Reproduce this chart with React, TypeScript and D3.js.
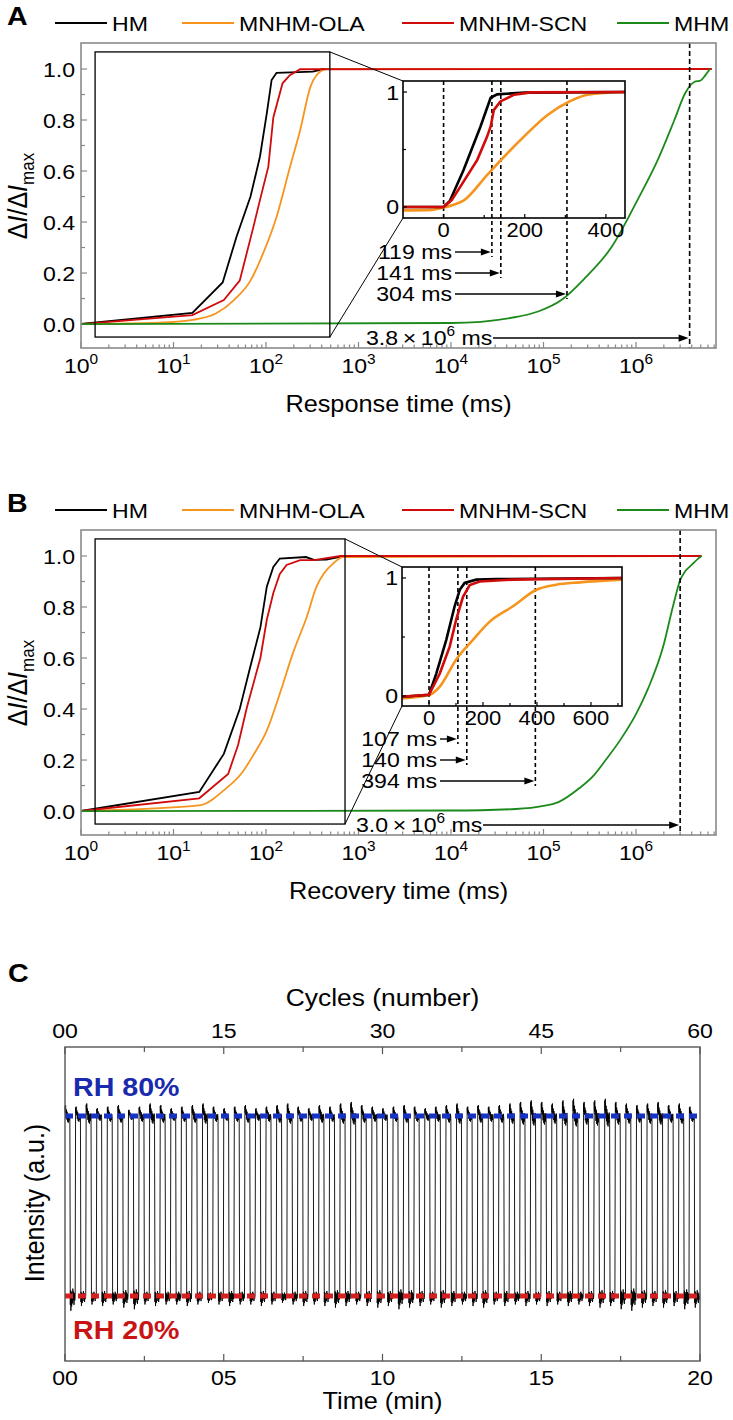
import React from 'react';
import * as d3 from 'd3';

type Pt = [number, number];

const FONT = '"Liberation Sans", Arial, Helvetica, sans-serif';
const SX = 1.1;

const SERIES_NAMES = ['HM', 'MNHM-OLA', 'MNHM-SCN', 'MHM'];
const SERIES_COLORS = ['#000000', '#f7941d', '#d10a0a', '#1b8a1b'];

// ---------- Panel A (response) ----------
const A_HM_MAIN: Pt[] = [[1, 0], [16, 0.044], [34, 0.163], [48, 0.342], [68, 0.5], [86, 0.656], [102, 0.826], [115, 0.957], [130, 0.985], [320, 0.99], [420, 1.0], [6.6e6, 1.0]];
const A_OLA_MAIN: Pt[] = [[1, 0], [7, 0.005], [16, 0.016], [29, 0.042], [45, 0.094], [68, 0.17], [93, 0.277], [130, 0.42], [182, 0.617], [234, 0.76], [302, 0.93], [367, 0.983], [453, 1.0], [6.6e6, 1.0]];
const A_SCN_MAIN: Pt[] = [[1, 0], [16, 0.035], [35, 0.094], [52, 0.17], [73, 0.38], [86, 0.486], [106, 0.617], [120, 0.81], [151, 0.944], [181, 0.976], [234, 0.999], [6.6e6, 1.0]];
const A_MHM_MAIN: Pt[] = [[1, 0], [1e4, 0.004], [4.6e4, 0.025], [8.9e4, 0.05], [1.56e5, 0.094], [2.8e5, 0.18], [5.4e5, 0.3], [1.05e6, 0.49], [1.7e6, 0.64], [2.6e6, 0.8], [3.4e6, 0.905], [4.3e6, 0.95], [5.0e6, 0.955], [5.6e6, 0.975], [6.3e6, 1.0]];

const A_HM_INSET: Pt[] = [[-100, 0.0], [0, 0.0], [15, 0.05], [49, 0.32], [91, 0.7], [116, 0.95], [132, 0.98], [200, 0.995], [447, 1.0]];
const A_OLA_INSET: Pt[] = [[-100, -0.03], [-30, -0.025], [0, -0.005], [25, 0.02], [50, 0.058], [107, 0.277], [149, 0.437], [198, 0.612], [256, 0.8], [310, 0.918], [355, 0.977], [447, 1.0]];
const A_SCN_INSET: Pt[] = [[-100, 0.0], [0, 0.0], [20, 0.06], [41, 0.175], [83, 0.41], [107, 0.61], [116, 0.7], [124, 0.845], [140, 0.918], [174, 0.977], [215, 0.997], [447, 1.0]];

const A_MARKS = [119, 141, 304];
const A_MHM_TIME = 3.8e6;

// ---------- Panel B (recovery) ----------
const B_HM_MAIN: Pt[] = [[1, 0], [19, 0.075], [35, 0.224], [52, 0.4], [67, 0.56], [87, 0.72], [102, 0.88], [120, 0.957], [141, 0.99], [270, 0.996], [330, 0.985], [450, 0.986], [690, 1.0], [5.1e6, 1.0]];
const B_OLA_MAIN: Pt[] = [[1, 0], [19, 0.022], [36, 0.085], [55, 0.15], [73, 0.22], [102, 0.315], [141, 0.46], [196, 0.62], [275, 0.76], [352, 0.88], [420, 0.93], [530, 0.97], [680, 0.996], [5.1e6, 1.0]];
const B_SCN_MAIN: Pt[] = [[1, 0], [19, 0.05], [39, 0.145], [50, 0.26], [62, 0.405], [87, 0.6], [102, 0.75], [120, 0.855], [141, 0.93], [167, 0.965], [234, 0.984], [330, 0.984], [640, 1.0], [5.1e6, 1.0]];
const B_MHM_MAIN: Pt[] = [[1, 0], [1e4, 0.002], [5e4, 0.008], [1e5, 0.02], [1.45e5, 0.035], [2.45e5, 0.09], [3.5e5, 0.14], [4.7e5, 0.2], [6.8e5, 0.28], [1e6, 0.38], [1.35e6, 0.48], [1.95e6, 0.64], [2.5e6, 0.8], [3.0e6, 0.905], [3.4e6, 0.94], [4.0e6, 0.965], [4.7e6, 0.99], [5.1e6, 1.0]];

const B_HM_INSET: Pt[] = [[-100, -0.006], [0, 0.01], [27, 0.19], [64, 0.476], [95, 0.76], [114, 0.9], [132, 0.958], [175, 0.986], [249, 0.99], [715, 1.0]];
const B_OLA_INSET: Pt[] = [[-100, -0.02], [0, 0.008], [40, 0.08], [101, 0.31], [163, 0.476], [225, 0.63], [311, 0.76], [398, 0.9], [472, 0.943], [558, 0.963], [715, 0.986]];
const B_SCN_INSET: Pt[] = [[-100, -0.006], [0, 0.01], [40, 0.19], [77, 0.42], [101, 0.65], [126, 0.84], [151, 0.94], [188, 0.97], [311, 0.986], [715, 1.0]];

const B_MARKS = [107, 140, 394];
const B_MHM_TIME = 3.0e6;

const Y_TICKS = [0, 0.2, 0.4, 0.6, 0.8, 1.0];
const Y_MINOR = [0.1, 0.3, 0.5, 0.7, 0.9];

// ---------- Panel C (cycling) ----------
const C_MINUTES = 20;
const C_CYCLES = 60;
const C_TIME_TICKS = [0, 5, 10, 15, 20];
const C_CYCLE_TICKS = [0, 15, 30, 45, 60];
const C_HIGH_LEVEL = 0.78;
const C_LOW_LEVEL = 0.207;
const C_HIGH_PEAK = [
  0.815, 0.81, 0.82, 0.805, 0.81, 0.815, 0.8, 0.81, 0.82, 0.815,
  0.805, 0.81, 0.815, 0.82, 0.81, 0.805, 0.81, 0.815, 0.805, 0.81,
  0.815, 0.82, 0.81, 0.805, 0.815, 0.81, 0.82, 0.825, 0.815, 0.81,
  0.805, 0.81, 0.815, 0.81, 0.805, 0.81, 0.815, 0.82, 0.81, 0.815,
  0.81, 0.815, 0.82, 0.825, 0.83, 0.825, 0.82, 0.83, 0.835, 0.825,
  0.83, 0.835, 0.825, 0.82, 0.815, 0.82, 0.825, 0.815, 0.82, 0.81,
];
const C_LOW_DIP = [
  0.16, 0.175, 0.18, 0.175, 0.18, 0.17, 0.165, 0.18, 0.175, 0.18,
  0.18, 0.175, 0.18, 0.185, 0.18, 0.175, 0.18, 0.18, 0.175, 0.18,
  0.185, 0.18, 0.175, 0.18, 0.175, 0.17, 0.175, 0.18, 0.175, 0.17,
  0.175, 0.165, 0.17, 0.175, 0.18, 0.17, 0.175, 0.18, 0.175, 0.17,
  0.18, 0.175, 0.18, 0.175, 0.18, 0.175, 0.18, 0.175, 0.18, 0.175,
  0.17, 0.175, 0.165, 0.16, 0.17, 0.175, 0.17, 0.175, 0.165, 0.17,
];
// plateau noise shape: [fraction of half-cycle, relative excursion]
const C_HIGH_SHAPE: Pt[] = [[0, 0.9], [0.06, 0.3], [0.12, 1.0], [0.2, 0.1], [0.28, 0.6], [0.36, -0.3], [0.44, 0.4], [0.52, -0.5], [0.6, 0.2], [0.68, -0.6], [0.76, 0.1], [0.84, -0.4], [0.92, 0.2], [1, -0.2]];
const C_LOW_SHAPE: Pt[] = [[0, 0.6], [0.06, -0.4], [0.12, 1.0], [0.2, -0.3], [0.28, 0.7], [0.36, -0.2], [0.44, 0.5], [0.52, -0.5], [0.6, 0.3], [0.68, -0.3], [0.76, 0.6], [0.84, -0.2], [0.92, 0.3], [1, 0]];

// ---------- helpers ----------
function T(props: any) {
  const { x, y, size, anchor = 'start', weight, fill = '#000', rot = false, children, style } = props;
  const tr = rot ? `translate(${x},${y}) rotate(-90) scale(1,${SX})` : `translate(${x},${y}) scale(${SX},1)`;
  return (
    <text transform={tr} fontSize={size} textAnchor={anchor} fontWeight={weight} fill={fill} fontFamily={FONT} style={style}>
      {children}
    </text>
  );
}

function Arrow({ x1, x2, y }: { x1: number; x2: number; y: number }) {
  return (
    <g>
      <line x1={x1} y1={y} x2={x2 - 7} y2={y} stroke="#000" strokeWidth={1.4} />
      <polygon points={`${x2},${y} ${x2 - 10},${y - 3.6} ${x2 - 10},${y + 3.6}`} fill="#000" />
    </g>
  );
}

const FR_L = 81, FR_R = 716, FR_H = 305;
const DECADE = 92.5;
const X_MAX = Math.pow(10, (FR_R - FR_L) / DECADE);
const Y_DOM: [number, number] = [-0.094, 1.102];

interface PanelCfg {
  letter: string;
  xTitle: string;
  top: number;
  main: Pt[][];
  inset: Pt[][];
  marks: number[];
  mhm: number;
  boxX1: number;
  ib: { l: number; r: number; t: number; b: number };
  ixDom: [number, number];
  iyDom: [number, number];
  ixTicks: number[];
  ixMinor: number[];
  labelOffsets: number[];
  labelRight: number;
  mhmLabelX: number;
}

const LEGEND_X = [55, 182, 402, 617];

function LogPanel({ cfg }: { cfg: PanelCfg }) {
  const t = cfg.top, b = cfg.top + FR_H;
  const x = d3.scaleLog().domain([1, X_MAX]).range([FR_L, FR_R]);
  const y = d3.scaleLinear().domain(Y_DOM).range([b, t]);
  const curves = [d3.curveLinear, d3.curveMonotoneX, d3.curveLinear, d3.curveMonotoneX];
  const mkLine = (c: any) => d3.line<Pt>().x((d) => x(d[0])).y((d) => y(d[1])).curve(c);

  const logTicks: { v: number; major: boolean; e: number }[] = [];
  for (let e = 0; e <= 6; e++) {
    for (let k = 1; k <= 9; k++) {
      const v = k * Math.pow(10, e);
      if (v <= X_MAX) logTicks.push({ v, major: k === 1, e });
    }
  }

  const ib = cfg.ib;
  const xi = d3.scaleLinear().domain(cfg.ixDom).range([ib.l, ib.r]);
  const yi = d3.scaleLinear().domain(cfg.iyDom).range([ib.b, ib.t]);
  const mkILine = (c: any) => d3.line<Pt>().x((d) => xi(d[0])).y((d) => yi(d[1])).curve(c);
  const insetOrder = [1, 0, 2];
  const insetCurves = [d3.curveLinear, d3.curveMonotoneX, d3.curveLinear];

  const bx0 = x(1.42), bx1 = x(cfg.boxX1), by0 = y(1.067), by1 = y(-0.051);
  const mhmX = x(cfg.mhm);
  const mhmMant = (cfg.mhm / 1e6).toFixed(1);
  const fmt = d3.format('.1f');
  const clipId = `clip-${cfg.letter}`;

  return (
    <g>
      <defs>
        <clipPath id={clipId}>
          <rect x={FR_L} y={t} width={FR_R - FR_L} height={FR_H} />
        </clipPath>
      </defs>
      {/* letter */}
      <T x={7} y={t - 18} size={26} weight="bold">{cfg.letter}</T>
      {/* legend */}
      {SERIES_NAMES.map((n, i) => (
        <g key={n}>
          <line x1={LEGEND_X[i]} x2={LEGEND_X[i] + 52} y1={t - 20} y2={t - 20} stroke={SERIES_COLORS[i]} strokeWidth={2} />
          <T x={LEGEND_X[i] + 57} y={t - 20 + 7.5} size={21}>{n}</T>
        </g>
      ))}
      {/* ticks */}
      {logTicks.map((tk) => (
        <line key={tk.v} x1={x(tk.v)} x2={x(tk.v)} y1={b} y2={b - (tk.major ? 6 : 3.5)} stroke="#888" strokeWidth={1.2} />
      ))}
      {logTicks.filter((tk) => tk.major).map((tk) => (
        <T key={'l' + tk.v} x={x(tk.v)} y={b + 24.5} size={21} anchor="middle">
          10<tspan dy={-9} fontSize={14}>{tk.e}</tspan>
        </T>
      ))}
      {Y_TICKS.map((v) => (
        <g key={'y' + v}>
          <line x1={FR_L} x2={FR_L + 6} y1={y(v)} y2={y(v)} stroke="#888" strokeWidth={1.2} />
          <T x={75} y={y(v) + 7.5} size={21} anchor="end">{fmt(v)}</T>
        </g>
      ))}
      {Y_MINOR.map((v) => (
        <line key={'ym' + v} x1={FR_L} x2={FR_L + 4} y1={y(v)} y2={y(v)} stroke="#888" strokeWidth={1.2} />
      ))}
      {/* axis titles */}
      <T x={(FR_L + FR_R) / 2} y={b + 64} size={23} anchor="middle">{cfg.xTitle}</T>
      <T x={27} y={t + 153} size={25} anchor="middle" rot>
        Δ<tspan fontStyle="italic">I</tspan>/Δ<tspan fontStyle="italic">I</tspan>
        <tspan dy={6} fontSize={17}>max</tspan>
      </T>
      {/* curves */}
      <g clipPath={`url(#${clipId})`}>
        {cfg.main.map((s, i) => (
          <path key={i} d={mkLine(curves[i])(s) || ''} fill="none" stroke={SERIES_COLORS[i]} strokeWidth={1.8} />
        ))}
      </g>
      {/* big dashed line at MHM time */}
      <line x1={mhmX} x2={mhmX} y1={t} y2={b} stroke="#000" strokeWidth={1.6} strokeDasharray="5,3" />
      {/* frame */}
      <rect x={FR_L} y={t} width={FR_R - FR_L} height={FR_H} fill="none" stroke="#8a8a8a" strokeWidth={1.6} />
      {/* zoom box */}
      <rect x={bx0} y={by0} width={bx1 - bx0} height={by1 - by0} fill="none" stroke="#000" strokeWidth={1.3} />
      <line x1={bx1} y1={by0} x2={ib.l} y2={ib.t} stroke="#000" strokeWidth={1} />
      <line x1={bx1} y1={by1} x2={ib.l} y2={ib.b} stroke="#000" strokeWidth={1} />
      {/* inset */}
      <rect x={ib.l} y={ib.t} width={ib.r - ib.l} height={ib.b - ib.t} fill="#fff" stroke="none" />
      <line x1={xi(0)} x2={xi(0)} y1={ib.t} y2={ib.b} stroke="#000" strokeWidth={1.6} strokeDasharray="4,3" />
      {cfg.marks.map((m, i) => (
        <line key={'mk' + m} x1={xi(m)} x2={xi(m)} y1={ib.t} y2={ib.b + cfg.labelOffsets[i] + 6} stroke="#000" strokeWidth={1.6} strokeDasharray="4,3" />
      ))}
      {insetOrder.map((k) => (
        <path key={'in' + k} d={mkILine(insetCurves[k])(cfg.inset[k]) || ''} fill="none" stroke={SERIES_COLORS[k]} strokeWidth={2.6} />
      ))}
      <rect x={ib.l} y={ib.t} width={ib.r - ib.l} height={ib.b - ib.t} fill="none" stroke="#000" strokeWidth={1.6} />
      {cfg.ixTicks.map((v) => (
        <g key={'ix' + v}>
          <line x1={xi(v)} x2={xi(v)} y1={ib.b} y2={ib.b - 4} stroke="#000" strokeWidth={1.2} />
          <T x={xi(v)} y={ib.b + 18.5} size={20} anchor="middle">{v}</T>
        </g>
      ))}
      {cfg.ixMinor.map((v) => (
        <line key={'ixm' + v} x1={xi(v)} x2={xi(v)} y1={ib.b} y2={ib.b - 3} stroke="#000" strokeWidth={1.2} />
      ))}
      {[0, 1].map((v) => (
        <g key={'iy' + v}>
          <line x1={ib.l} x2={ib.l + 4} y1={yi(v)} y2={yi(v)} stroke="#000" strokeWidth={1.2} />
          <T x={ib.l - 4} y={yi(v) + 7.5} size={21} anchor="end">{v}</T>
        </g>
      ))}
      <line x1={ib.l} x2={ib.l + 3} y1={yi(0.5)} y2={yi(0.5)} stroke="#000" strokeWidth={1.2} />
      {/* mark labels + arrows */}
      {cfg.marks.map((m, i) => {
        const cy = ib.b + cfg.labelOffsets[i];
        return (
          <g key={'lab' + m}>
            <T x={cfg.labelRight} y={cy + 7.5} size={21} anchor="end">{`${m} ms`}</T>
            <Arrow x1={cfg.labelRight + 3} x2={xi(m) - 1} y={cy + 1} />
          </g>
        );
      })}
      {/* MHM label */}
      <T x={cfg.mhmLabelX} y={by1 + 7.5} size={21}>
        {mhmMant}{'\u2009×\u2009'}10<tspan dy={-9} fontSize={14}>6</tspan><tspan dy={9}> ms</tspan>
      </T>
      <Arrow x1={cfg.mhmLabelX + 127} x2={mhmX - 1} y={by1 + 1} />
    </g>
  );
}

const A_CFG: PanelCfg = {
  letter: 'A',
  xTitle: 'Response time (ms)',
  top: 43,
  main: [A_HM_MAIN, A_OLA_MAIN, A_SCN_MAIN, A_MHM_MAIN],
  inset: [A_HM_INSET, A_OLA_INSET, A_SCN_INSET],
  marks: A_MARKS,
  mhm: A_MHM_TIME,
  boxX1: 490,
  ib: { l: 403, r: 625, t: 81, b: 218 },
  ixDom: [-100, 447],
  iyDom: [-0.096, 1.096],
  ixTicks: [0, 200, 400],
  ixMinor: [100, 300],
  labelOffsets: [33, 54, 75],
  labelRight: 452,
  mhmLabelX: 366,
};

const B_CFG: PanelCfg = {
  letter: 'B',
  xTitle: 'Recovery time (ms)',
  top: 530,
  main: [B_HM_MAIN, B_OLA_MAIN, B_SCN_MAIN, B_MHM_MAIN],
  inset: [B_HM_INSET, B_OLA_INSET, B_SCN_INSET],
  marks: B_MARKS,
  mhm: B_MHM_TIME,
  boxX1: 715,
  ib: { l: 402, r: 622, t: 567, b: 706 },
  ixDom: [-100, 715],
  iyDom: [-0.085, 1.093],
  ixTicks: [0, 200, 400, 600],
  ixMinor: [100, 300, 500, 700],
  labelOffsets: [32, 53, 74],
  labelRight: 437,
  mhmLabelX: 356,
};

function CyclePanel() {
  const L = 65, R = 700, t = 1047, b = 1361;
  const xt = d3.scaleLinear().domain([0, C_MINUTES]).range([L, R]);
  const xc = d3.scaleLinear().domain([0, C_CYCLES]).range([L, R]);
  const y = d3.scaleLinear().domain([0, 1]).range([b, t]);
  const period = C_MINUTES / C_CYCLES;
  const half = period / 2;

  const pts: Pt[] = [];
  for (let i = 0; i < C_CYCLES; i++) {
    const t0 = i * period;
    const hAmp = C_HIGH_PEAK[i] - C_HIGH_LEVEL;
    C_HIGH_SHAPE.forEach(([f, s]) => pts.push([t0 + f * half * 0.92, C_HIGH_LEVEL + s * hAmp]));
    const lAmp = C_LOW_LEVEL - C_LOW_DIP[i];
    C_LOW_SHAPE.forEach(([f, s]) => pts.push([t0 + half + f * half * 0.92, C_LOW_LEVEL - s * lAmp]));
  }
  const line = d3.line<Pt>().x((d) => xt(d[0])).y((d) => y(d[1]));

  const timeMinor = d3.range(0, C_MINUTES + 0.01, 2.5);
  const cycMinor = d3.range(0, C_CYCLES + 0.01, 7.5);
  const pad = d3.format('02d');

  return (
    <g>
      <T x={8} y={982} size={26} weight="bold">C</T>
      <T x={(L + R) / 2} y={1006} size={24} anchor="middle">Cycles (number)</T>
      {C_CYCLE_TICKS.map((v) => (
        <T key={'ct' + v} x={xc(v)} y={1037.5} size={21} anchor="middle">{pad(v)}</T>
      ))}
      {cycMinor.map((v) => (
        <line key={'cm' + v} x1={xc(v)} x2={xc(v)} y1={t} y2={t + (v % 15 === 0 ? 7 : 5)} stroke="#555" strokeWidth={1.2} />
      ))}
      {timeMinor.map((v) => (
        <line key={'tm' + v} x1={xt(v)} x2={xt(v)} y1={b} y2={b - (v % 5 === 0 ? 7 : 5)} stroke="#555" strokeWidth={1.2} />
      ))}
      {C_TIME_TICKS.map((v) => (
        <T key={'tt' + v} x={xt(v)} y={1384.5} size={21} anchor="middle">{pad(v)}</T>
      ))}
      <T x={(L + R) / 2} y={1409} size={23} anchor="middle">Time (min)</T>
      <T x={44} y={(t + b) / 2 - 1} size={25} anchor="middle" rot>Intensity (a.u.)</T>
      <path d={line(pts) || ''} fill="none" stroke="#000" strokeWidth={0.9} />
      <line x1={L} x2={R} y1={y(C_HIGH_LEVEL)} y2={y(C_HIGH_LEVEL)} stroke="#1733c4" strokeWidth={5} strokeDasharray="8,5" />
      <line x1={L} x2={R} y1={y(C_LOW_LEVEL)} y2={y(C_LOW_LEVEL)} stroke="#d42020" strokeWidth={5} strokeDasharray="8,5" />
      <rect x={L} y={t} width={R - L} height={b - t} fill="none" stroke="#555" strokeWidth={1.4} />
      <T x={73} y={1096} size={26} weight="bold" fill="#1a2aae">RH 80%</T>
      <T x={73} y={1339} size={26} weight="bold" fill="#c81414">RH 20%</T>
    </g>
  );
}

export default function App() {
  return (
    <svg
      width={733}
      height={1420}
      viewBox="0 0 733 1420"
      style={{ position: 'absolute', left: 0, top: 0, background: '#fff' }}
      xmlns="http://www.w3.org/2000/svg"
    >
      <rect x={0} y={0} width={733} height={1420} fill="#fff" />
      <LogPanel cfg={A_CFG} />
      <LogPanel cfg={B_CFG} />
      <CyclePanel />
    </svg>
  );
}
